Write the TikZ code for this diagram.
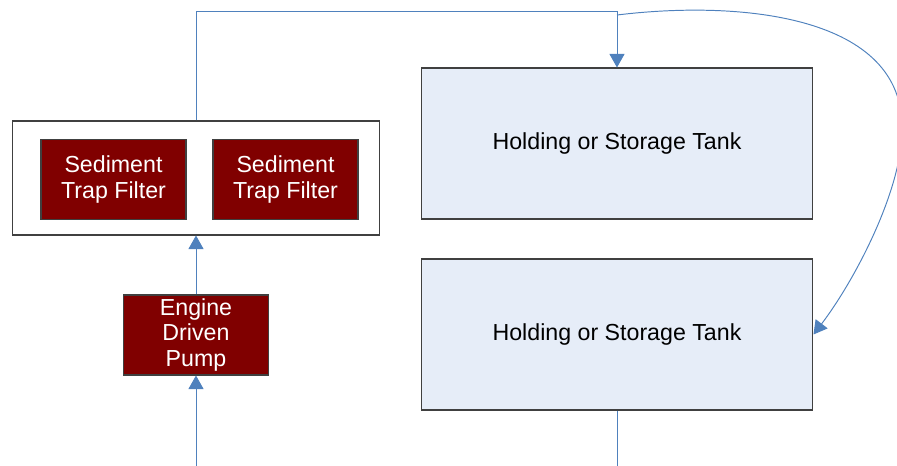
\documentclass[tikz,border=0pt]{standalone}
\usepackage{fontspec}
\setmainfont{Liberation Sans}
\usetikzlibrary{arrows.meta,positioning}
\definecolor{darkred}{HTML}{800000}
\definecolor{pipe}{HTML}{4F81BD}
\definecolor{tankfill}{HTML}{E6EDF8}
\definecolor{edge}{HTML}{404040}
\tikzset{x=0.02cm,y=-0.02cm,
  every node/.style={font=\fontsize{13.2}{14.5}\selectfont,align=center,inner sep=0pt},
  unit/.style={draw=edge,fill=darkred,text=white,line width=0.6pt,minimum width=2.9cm,minimum height=1.6cm},
  tank/.style={draw=edge,fill=tankfill,line width=0.6pt,minimum width=7.84cm,minimum height=3.02cm},
  flow/.style={draw=pipe,line width=0.55pt},
  tip/.style={-{Triangle[width=0.3cm,length=0.27cm]}}}

\begin{document}
\begin{tikzpicture}
    \useasboundingbox (0,0) rectangle (897,466);
    \clip (0,0) rectangle (897,466);
    \node[draw=edge,line width=0.6pt,minimum width=7.36cm,minimum height=2.28cm] (box) at (196,178) {};
    \node[unit] (f1) at (113.5,179.5) {Sediment\\Trap Filter};
    \node[unit] (f2) at (285.5,179.5) {Sediment\\Trap Filter};
    \node[unit] (pump) at (196,335) {Engine\\Driven\\Pump};
    \node[tank] (t1) at (617,143.5) {Holding or Storage Tank};
    \node[tank] (t2) at (617,334.5) {Holding or Storage Tank};
    \coordinate (in) at (196,466);
    \coordinate (out) at (617,466);
    \coordinate (c1) at (196,11);
    \coordinate (c2) at (617,11);
    \coordinate (split) at (617,15);
    % pipes
    \draw[flow,tip] (in) -- (pump.south);
    \draw[flow,tip] (pump.north) -- (box.south);
    \draw[flow,tip] (box.north) -- (c1) -- (c2) -- (t1.north);
    \draw[flow,tip] (split) .. controls (740,0) and (905,15) .. (902,130)
        .. controls (902,190) and (855,280) .. (t2.east);
    \draw[flow] (t2.south) -- (out);
\end{tikzpicture}
\end{document}
